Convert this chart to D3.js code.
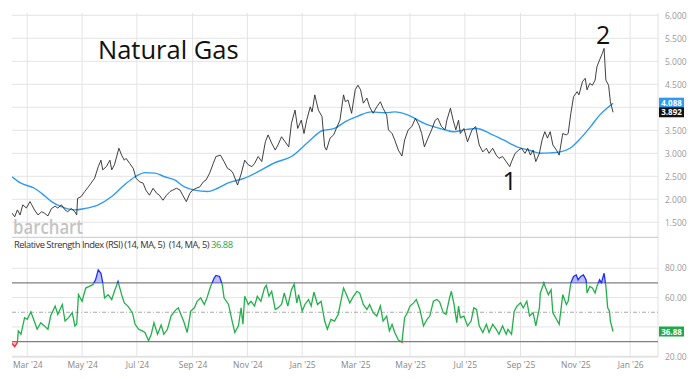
<!DOCTYPE html>
<html><head><meta charset="utf-8">
<script src="https://cdn.jsdelivr.net/npm/d3@7"></script>
<style>body{margin:0;background:#fff}svg{display:block;font-family:"Open Sans",sans-serif}</style>
</head><body><svg id="c" width="700" height="379"></svg>
<script>
// ---- data (day offsets are days since startDate) ----
const startDate = "2024-02-13";
const priceDay = [0,3,6,9,12,16,20,22,25,29,33,36,40,44,48,51,55,59,62,66,70,72,73,77,81,85,88,92,96,99,101,105,109,111,114,119,122,125,127,131,135,138,142,146,149,153,157,161,164,168,172,176,179,183,187,190,194,198,201,205,209,213,216,220,224,227,232,236,240,243,246,251,255,259,263,267,270,274,278,282,285,289,293,296,300,304,308,311,315,318,322,325,328,332,334,337,341,345,348,350,354,358,361,365,369,371,374,378,382,385,388,391,395,398,402,406,410,413,417,419,423,426,430,434,437,441,445,449,453,456,459,463,467,471,474,478,482,484,488,491,494,497,499,503,507,512,516,520,524,528,531,535,539,542,546,550,554,556,560,564,567,571,574,577,580,583,587,590,593,596,599,602,606,609,613,617,619,622,625,629,631,635,638,640,643,646,649,651,654,657,659,661,664,666,669];
const priceClose = [1.70,1.62,1.77,1.66,1.88,1.81,1.95,1.88,1.77,1.66,1.73,1.70,1.64,1.80,1.85,1.81,1.88,1.77,1.73,1.80,1.73,1.66,2.02,2.06,2.17,2.27,2.35,2.46,2.71,2.85,2.64,2.71,2.85,2.64,2.75,3.11,2.96,2.85,2.89,2.78,2.67,2.46,2.38,2.35,2.20,2.09,2.24,2.13,2.09,1.98,2.09,2.17,2.20,2.24,2.20,2.09,1.95,2.13,2.20,2.24,2.27,2.38,2.42,2.57,2.78,2.93,2.96,2.82,2.67,2.64,2.57,2.31,2.55,2.85,2.75,2.71,2.78,2.93,2.82,3.25,3.40,3.22,3.07,3.18,3.36,3.25,3.14,3.65,3.94,3.54,3.72,3.43,3.72,4.01,3.90,4.27,3.94,3.80,3.14,3.07,3.33,3.40,3.54,3.72,4.27,4.12,4.16,3.87,4.38,4.48,4.38,4.09,4.20,4.01,3.87,4.01,4.12,3.98,3.83,3.51,3.43,3.29,3.07,2.94,3.29,3.51,3.58,3.76,3.61,3.43,3.14,3.33,3.51,3.72,3.76,3.58,3.51,3.72,3.98,3.72,3.51,3.72,3.43,3.54,3.25,3.51,3.58,3.18,3.03,3.11,3.00,3.11,2.96,2.89,2.93,2.82,2.71,2.82,3.00,3.07,3.11,3.00,3.11,2.96,3.07,2.82,3.00,3.29,3.47,3.33,3.47,3.18,3.07,2.96,3.43,3.40,3.43,3.87,4.23,4.34,4.27,4.56,4.63,4.38,4.52,4.48,4.59,4.88,5.03,5.17,5.28,4.59,4.48,4.12,3.892];
const maDay = [0,10,25,33,44,55,70,81,96,111,125,137,148,159,170,181,192,203,218,229,240,259,274,293,311,330,345,359,371,385,400,415,426,441,460,471,482,491,506,517,532,547,562,577,588,599,610,621,633,644,654,664,669];
const maValue = [2.49,2.35,2.24,2.13,1.95,1.84,1.77,1.80,1.88,2.06,2.31,2.49,2.58,2.57,2.49,2.42,2.27,2.20,2.17,2.24,2.35,2.46,2.60,2.80,2.93,3.25,3.49,3.54,3.69,3.81,3.90,3.88,3.90,3.83,3.64,3.57,3.51,3.47,3.52,3.54,3.43,3.29,3.14,3.06,3.00,3.01,3.03,3.11,3.33,3.58,3.83,4.01,4.088];
const rsiDay = [0,3,6,7,10,14,17,21,24,28,32,36,40,43,48,51,56,59,63,67,70,72,74,78,82,86,90,93,96,99,101,103,107,111,114,118,122,125,129,134,137,141,145,148,152,155,158,162,166,169,173,177,181,185,188,191,195,199,203,206,210,214,217,221,225,227,231,234,236,241,245,248,252,255,257,259,263,266,270,273,277,281,283,286,289,293,296,300,303,307,311,314,317,319,323,326,330,333,336,340,344,348,351,355,359,363,366,369,373,376,380,384,387,391,395,398,402,406,410,413,417,420,423,426,430,434,437,440,443,447,450,454,458,462,465,469,473,476,480,483,487,489,492,495,497,499,503,507,511,514,517,520,524,528,531,535,539,542,546,550,552,556,559,562,566,569,573,576,580,583,587,588,592,594,597,600,602,606,609,613,617,619,622,625,628,630,633,636,639,640,643,646,649,651,654,656,659,661,663,665,666,669];
const rsiValue = [28.8,26.5,29.4,37.3,35,46.3,45.2,50.3,45.2,38.4,42.9,40.7,38.4,47.4,54.2,48.5,55.3,44,46.3,49.7,40.7,41.8,62,57.5,66.5,67.6,68.8,72.1,78.9,76.6,70,59.8,62,58.7,64.3,71,62,56.4,54.2,49.7,41.8,38.4,37.3,36.2,30.6,35,42.9,35,41.3,35,38.4,47.4,50.8,53,48.5,44,36.2,50.8,53,57.5,59.8,55.3,59.8,67.6,73.3,75.1,74.4,68.8,59.8,55.3,44,36.2,40.7,53,41.8,60.9,55.3,57.5,54.2,60.9,57.5,66.5,68.3,60.9,64.3,51.9,53,55.3,63.1,54.2,65.4,69.2,56.4,62,50.8,55.3,58.7,54.2,63.8,55.3,57.5,44,38.4,45.2,44,48.5,57.5,66.5,60.9,56.4,60.9,64.3,63.1,55.3,51.9,55.3,49.7,47.4,54.2,44,47.4,37.3,41.8,36.2,31,29.6,46.3,49.7,54.2,56.4,58.7,51.9,40.7,45.2,47.4,57.5,58.7,57,49.7,48.5,59.8,64.3,55.3,42.9,54.2,46.3,47.4,40.7,44,53,51.9,40.7,36.2,41.8,36.2,41.8,38.4,35,40.7,35,38.4,35,50.8,54.2,56.4,53,57.5,47.4,49.7,40.7,53,63.1,70,66.5,62,65.4,49.7,45.2,41.8,62,55.3,57.5,70,74.4,75.5,72.1,74.4,75.5,72.1,63.1,67.6,66.5,63.1,67.6,72.1,70,76.6,67.6,53,50.8,44,36.88];
const priceTicks = [1.5,2,2.5,3,3.5,4,4.5,5,5.5,6];
const rsiTicks = [20,40,60,80];
const rsiBands = [70,30];
const rsiMid = 50;
const monthTicks = ["2024-03-01","2024-05-01","2024-07-01","2024-09-01","2024-11-01","2025-01-01","2025-03-01","2025-05-01","2025-07-01","2025-09-01","2025-11-01","2026-01-01"];
const lastPrice = 3.892, lastMA = 4.088, lastRSI = 36.88;
const title = "Natural Gas";
const notes = [{label:"1", day:554, value:2.20}, {label:"2", day:658, value:5.376}];
const rsiLegend = "Relative Strength Index (RSI) (14, MA, 5)  (14, MA, 5) ";

// ---- layout ----
const L = 12, R = 658, PT = 13, PB = 237.3, RT = 237.3, RB = 357;
const svg = d3.select("#c");
const parse = d3.utcParse("%Y-%m-%d");
const t0 = parse(startDate);
const toDate = d => d3.utcDay.offset(t0, d);

const x = d3.scaleUtc().domain([t0, parse("2026-02-01")]).range([L, R]);
const y = d3.scaleLinear().domain([1.174, 6.05]).range([PB, PT]);
const yr = d3.scaleLinear().domain([19.5, 101.1]).range([RB, RT]);

const price = priceDay.map((d,i)=>({t:toDate(d), v:priceClose[i]}));
const ma = maDay.map((d,i)=>({t:toDate(d), v:maValue[i]}));
const rsi = rsiDay.map((d,i)=>({t:toDate(d), v:rsiValue[i]}));
const months = monthTicks.map(parse);

const defs = svg.append("defs");
defs.append("clipPath").attr("id","cp").append("rect").attr("x",L).attr("y",PT).attr("width",R-L).attr("height",PB-PT);
defs.append("clipPath").attr("id","cHi").append("rect").attr("x",L).attr("y",RT).attr("width",R-L).attr("height",yr(70)-RT);
defs.append("clipPath").attr("id","cMid").append("rect").attr("x",L).attr("y",yr(70)).attr("width",R-L).attr("height",yr(30)-yr(70));
defs.append("clipPath").attr("id","cLo").append("rect").attr("x",L).attr("y",yr(30)).attr("width",R-L).attr("height",RB-yr(30));

// ---- grid ----
const g = svg.append("g");
g.selectAll(".hg").data(priceTicks).join("line")
  .attr("x1",L).attr("x2",R).attr("y1",d=>y(d)).attr("y2",d=>y(d))
  .attr("stroke","#e4e4e4").attr("stroke-width",1);
g.selectAll(".rg").data(rsiTicks).join("line")
  .attr("x1",L).attr("x2",R).attr("y1",d=>yr(d)).attr("y2",d=>yr(d))
  .attr("stroke","#e4e4e4").attr("stroke-width",1);
g.selectAll(".vg").data(months).join("line")
  .attr("x1",d=>x(d)).attr("x2",d=>x(d)).attr("y1",PT).attr("y2",RB)
  .attr("stroke","#e4e4e4").attr("stroke-width",1);
g.append("line").attr("x1",R).attr("x2",R).attr("y1",PT).attr("y2",RB).attr("stroke","#e0e0e0");
g.append("line").attr("x1",L).attr("x2",R).attr("y1",RT).attr("y2",RT).attr("stroke","#c8c8c8");
g.append("line").attr("x1",L).attr("x2",R).attr("y1",RB).attr("y2",RB).attr("stroke","#d8d8d8");
g.append("line").attr("x1",L).attr("x2",R).attr("y1",yr(rsiMid)).attr("y2",yr(rsiMid))
  .attr("stroke","#aaa").attr("stroke-dasharray","4,2,1,2");
g.selectAll(".band").data(rsiBands).join("line")
  .attr("x1",L).attr("x2",R).attr("y1",d=>yr(d)).attr("y2",d=>yr(d))
  .attr("stroke","#808080").attr("stroke-width",1.3);

// watermark
svg.append("text").attr("x",13).attr("y",234).text("barchart")
  .attr("font-size",20).attr("font-weight",600).attr("fill","#c4c4c4")
  .attr("textLength",70).attr("lengthAdjust","spacingAndGlyphs");

// ---- price panel ----
const pline = d3.line().x(d=>x(d.t)).y(d=>y(d.v));
svg.append("path").datum(ma).attr("clip-path","url(#cp)")
  .attr("d", d3.line().x(d=>x(d.t)).y(d=>y(d.v)).curve(d3.curveMonotoneX))
  .attr("fill","none").attr("stroke","#2f9bf0").attr("stroke-width",1.4);
svg.append("path").datum(price).attr("clip-path","url(#cp)").attr("d",pline)
  .attr("fill","none").attr("stroke","#2a2a2a").attr("stroke-width",0.9);

// title & notes
svg.append("text").attr("x",98).attr("y",59).text(title)
  .attr("font-size",25.5).attr("fill","#111");
svg.selectAll(".note").data(notes).join("text")
  .attr("x",d=>x(toDate(d.day))).attr("y",d=>y(d.value)).attr("text-anchor","middle")
  .attr("font-size",25).attr("fill","#111").text(d=>d.label);

// tag positions (MA tag sits just above the price tag)
const tagPrice = y(lastPrice), tagMA = y(lastPrice) - 9.6, tagRSI = yr(lastRSI);
const clearOf = (pos, list) => list.every(p => Math.abs(p - pos) > 7);

// right price axis
const ay = svg.append("g").attr("transform",`translate(${R},0)`)
  .call(d3.axisRight(y).tickValues(priceTicks.filter(v=>clearOf(y(v),[tagPrice,tagMA])))
  .tickFormat(d3.format(".3f")).tickSize(0).tickPadding(7));
ay.select(".domain").remove();
ay.selectAll("text").attr("fill","#9a9a9a").attr("font-size",8.5).attr("font-family","Open Sans, sans-serif");

function tag(pos, label, bg){
  const gg = svg.append("g").attr("transform",`translate(${R+1},${pos})`);
  gg.append("rect").attr("x",0).attr("y",-5).attr("width",25).attr("height",10).attr("fill",bg);
  gg.append("text").attr("x",12.5).attr("y",3.2).attr("text-anchor","middle")
    .attr("fill","#fff").attr("font-size",8).attr("font-weight",700).text(label);
}
tag(tagMA, d3.format(".3f")(lastMA), "#2f9bf0");
tag(tagPrice, d3.format(".3f")(lastPrice), "#111");

// ---- RSI panel ----
svg.append("text").attr("x",14).attr("y",248).attr("font-size",9.4).attr("fill","#333")
  .attr("xml:space","preserve").style("white-space","pre")
  .attr("textLength",219).attr("lengthAdjust","spacing")
  .text(rsiLegend).append("tspan").attr("fill","#22a84a").text(d3.format(".2f")(lastRSI));

const rline = d3.line().x(d=>x(d.t)).y(d=>yr(d.v));
svg.append("path").datum(rsi).attr("clip-path","url(#cHi)")
  .attr("d", d3.area().x(d=>x(d.t)).y0(yr(70)).y1(d=>yr(d.v)))
  .attr("fill","rgba(70,80,255,0.35)");
svg.append("path").datum(rsi).attr("clip-path","url(#cLo)")
  .attr("d", d3.area().x(d=>x(d.t)).y0(yr(30)).y1(d=>yr(d.v)))
  .attr("fill","rgba(255,60,60,0.35)");
[["cMid","#22b04b"],["cHi","#1f2cff"],["cLo","#ff2020"]].forEach(([c,col])=>{
  svg.append("path").datum(rsi).attr("clip-path",`url(#${c})`).attr("d",rline)
    .attr("fill","none").attr("stroke",col).attr("stroke-width",1.3);
});

const ar = svg.append("g").attr("transform",`translate(${R},0)`)
  .call(d3.axisRight(yr).tickValues(rsiTicks.filter(v=>clearOf(yr(v),[tagRSI])))
  .tickFormat(d3.format(".2f")).tickSize(0).tickPadding(7));
ar.select(".domain").remove();
ar.selectAll("text").attr("fill","#9a9a9a").attr("font-size",8.5).attr("font-family","Open Sans, sans-serif");
tag(tagRSI, d3.format(".2f")(lastRSI), "#1faa48");

// ---- x axis ----
const ax = svg.append("g").attr("transform",`translate(0,${RB})`)
  .call(d3.axisBottom(x).tickValues(months).tickFormat(d3.utcFormat("%b '%y")).tickSize(0).tickPadding(5));
ax.select(".domain").remove();
ax.selectAll("text").attr("fill","#888").attr("font-size",8.5).attr("font-family","Open Sans, sans-serif");
</script></body></html>
